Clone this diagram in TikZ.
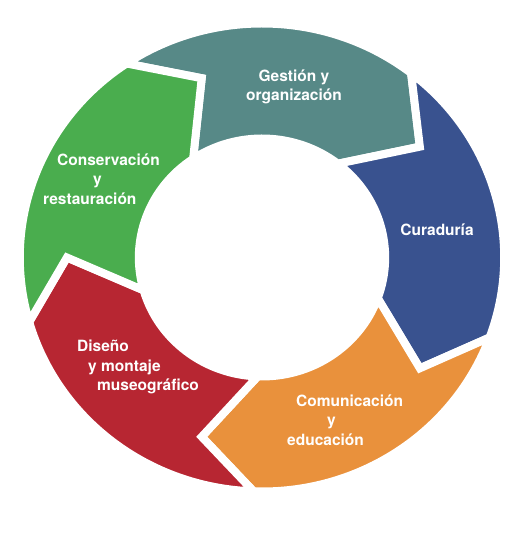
\documentclass[tikz,border=0pt]{standalone}
\usepackage{fontspec}
\setsansfont{TeX Gyre Heros}
\usepackage{xcolor}
\usepackage{tikz}
\usetikzlibrary{positioning}

\definecolor{segTeal}{RGB}{87,137,135}
\definecolor{segBlue}{RGB}{57,82,143}
\definecolor{segOrange}{RGB}{233,145,60}
\definecolor{segRed}{RGB}{183,38,50}
\definecolor{segGreen}{RGB}{74,173,78}

\begin{document}
\begin{tikzpicture}[
    x=1pt, y=1pt,
    stagetext/.style={text=white, inner sep=0pt, align=left,
                      font=\sffamily\bfseries\fontsize{15.5}{19.5}\selectfont},
    ringseg/.style={draw=white, line width=8pt, line join=miter}
  ]
    \useasboundingbox (0,0) rectangle (517,540);

    %% ── Ring: five arrow segments, clockwise
    \begin{scope}[shift={(262,282.5)}, xscale=1.035]
      \def\Ro{234} \def\Ri{119} \def\Rt{188.5}
      \foreach \h/\col in {52/segTeal, -20/segBlue, -92/segOrange, -164/segRed, 124/segGreen} {
        \pgfmathsetmacro{\t}{\h+72}
        \pgfmathsetmacro{\hp}{\h-16}
        \pgfmathsetmacro{\tp}{\t-16}
        \path[ringseg, fill=\col]
          (\t:\Ro) arc[start angle=\t, end angle=\h, radius=\Ro]
          -- (\hp:\Rt) -- (\h:\Ri)
          arc[start angle=\h, end angle=\t, radius=\Ri]
          -- (\tp:\Rt) -- cycle;
      }
    \end{scope}

    %% ── Stage labels
    \node[stagetext, align=center] (gestion) at (294,453)
          {Gestión y\\organización};
    \node[stagetext] (curaduria) at (437,310) {Curaduría};
    \node[stagetext, anchor=west] (comunica) at (287,120)
          {\hspace*{9pt}Comunicación\\\hspace*{40pt}y\\educación};
    \node[stagetext, anchor=west] (diseno) at (77,173)
          {Diseño\\\hspace*{11pt}y montaje\\\hspace*{20pt}museográfico};
    \node[stagetext, anchor=west] (conserva) at (43,361)
          {\hspace*{14pt}Conservación\\\hspace*{50pt}y\\restauración};

\end{tikzpicture}
\end{document}
